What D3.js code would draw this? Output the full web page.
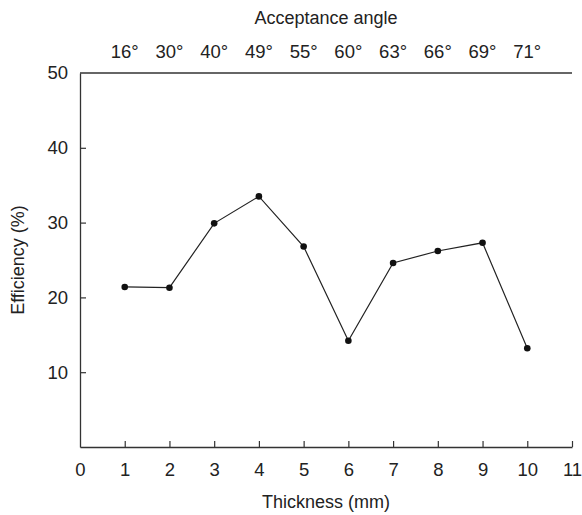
<!DOCTYPE html>
<html>
<head>
<meta charset="utf-8">
<script src="https://cdn.jsdelivr.net/npm/d3@7"></script>
<style>
body { margin: 0; background: #fff; }
text { font-family: "Liberation Sans", Arial, sans-serif; fill: #222; }
</style>
</head>
<body>
<div id="viz"></div>
<script>
// data
var thickness = [1, 2, 3, 4, 5, 6, 7, 8, 9, 10];
var efficiency = [21.4, 21.3, 29.9, 33.5, 26.8, 14.2, 24.6, 26.2, 27.3, 13.2];
var angleLabels = ["16°", "30°", "40°", "49°", "55°", "60°", "63°", "66°", "69°", "71°"];
var xTicks = [0, 1, 2, 3, 4, 5, 6, 7, 8, 9, 10, 11];
var yTicks = [10, 20, 30, 40, 50];

var margin = {top: 73, right: 10, bottom: 68, left: 80},
    width = 582 - margin.left - margin.right,
    height = 515 - margin.top - margin.bottom;

var svg = d3.select("#viz").append("svg")
    .attr("width", 582)
    .attr("height", 515);

var g = svg.append("g").attr("transform", "translate(" + margin.left + "," + margin.top + ")");

var x = d3.scaleLinear().domain([0, 11]).range([0, width]);
var y = d3.scaleLinear().domain([0, 50]).range([height, 0]);

var ink = "#333";
var tickFont = "18.5px";

// bottom axis, ticks pointing in
var xAxis = g.append("g").attr("transform", "translate(0," + height + ")")
    .call(d3.axisBottom(x).tickValues(xTicks).tickSizeInner(-6).tickSizeOuter(0).tickPadding(16));
xAxis.select(".domain").attr("stroke", ink).attr("stroke-width", 1.3);
xAxis.selectAll(".tick line").attr("stroke", ink).attr("stroke-width", 1.2)
    .attr("display", function(d) { return d == 0 ? "none" : null; });
xAxis.selectAll(".tick text").attr("font-size", tickFont).attr("fill", "#222")
    .style("font-family", "Liberation Sans, Arial, sans-serif");

// left axis, ticks pointing in
var yAxis = g.append("g")
    .call(d3.axisLeft(y).tickValues(yTicks).tickSizeInner(-6).tickSizeOuter(0).tickPadding(12));
yAxis.select(".domain").attr("stroke", ink).attr("stroke-width", 1.3);
yAxis.selectAll(".tick line").attr("stroke", ink).attr("stroke-width", 1.2)
    .attr("display", function(d) { return d == 50 ? "none" : null; });
yAxis.selectAll(".tick text").attr("font-size", tickFont).attr("fill", "#222")
    .style("font-family", "Liberation Sans, Arial, sans-serif");

// top line with acceptance angle labels
g.append("line")
    .attr("x1", 0).attr("x2", width).attr("y1", 0).attr("y2", 0)
    .attr("stroke", ink).attr("stroke-width", 1.3);

g.selectAll(".angle")
    .data(thickness)
    .enter().append("text")
    .attr("class", "angle")
    .attr("x", function(d) { return x(d); })
    .attr("y", -15)
    .attr("text-anchor", "middle")
    .attr("font-size", tickFont)
    .text(function(d, i) { return angleLabels[i]; });

svg.append("text")
    .attr("x", margin.left + width / 2)
    .attr("y", 24)
    .attr("text-anchor", "middle")
    .attr("font-size", "18px")
    .text("Acceptance angle");

svg.append("text")
    .attr("x", margin.left + width / 2)
    .attr("y", 508)
    .attr("text-anchor", "middle")
    .attr("font-size", "18px")
    .text("Thickness (mm)");

svg.append("text")
    .attr("transform", "translate(24," + (margin.top + height / 2) + ") rotate(-90)")
    .attr("text-anchor", "middle")
    .attr("font-size", "18px")
    .text("Efficiency (%)");

// series
var line = d3.line()
    .x(function(d, i) { return x(thickness[i]); })
    .y(function(d) { return y(d); });

g.append("path")
    .datum(efficiency)
    .attr("d", line)
    .attr("fill", "none")
    .attr("stroke", "#222")
    .attr("stroke-width", 1.2);

g.selectAll(".dot")
    .data(efficiency)
    .enter().append("circle")
    .attr("class", "dot")
    .attr("cx", function(d, i) { return x(thickness[i]); })
    .attr("cy", function(d) { return y(d); })
    .attr("r", 3.3)
    .attr("fill", "#111");
</script>
</body>
</html>
